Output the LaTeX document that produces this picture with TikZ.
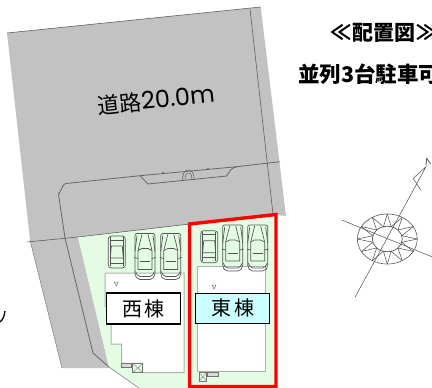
\documentclass[tikz,border=0pt]{standalone}
\usepackage{fontspec}
\newfontfamily\cjk{Noto Sans CJK JP}
\newfontfamily\lat{Poppins}
\definecolor{roadgray}{HTML}{C2C2C2}
\definecolor{lotgreen}{HTML}{E4FCE4}
\definecolor{labelcyan}{HTML}{CCFFFF}
\definecolor{carline}{HTML}{555555}
\definecolor{houseline}{HTML}{A8B4A8}
\tikzset{
  boundary/.style={draw=black!65,line width=0.55pt},
  curb/.style={draw=black!60,line width=0.8pt,line join=round},
  carstroke/.style={draw=carline,line width=0.7pt,line join=round},
  house/.style={draw=houseline,fill=white,line width=1pt},
  tag/.style={draw=black,line width=1.1pt,inner sep=0pt,font=\cjk\fontsize{20}{20}\selectfont,anchor=center},
  compass/.style={draw=black!65,line width=0.55pt},
  smallicon/.style={draw=black!55,line width=0.5pt,fill=black!15},
  bigcar/.pic={
    \draw[carstroke] (2,0) -- (18,0) to[out=0,in=90] (20,7) -- (20,40) to[out=-90,in=0] (15,46) -- (5,46) to[out=180,in=-90] (0,40) -- (0,7) to[out=90,in=180] (2,0) -- cycle;
    \draw[carstroke] (0.5,38) to[out=-60,in=180] (5,43) -- (15,43) to[out=0,in=-120] (19.5,38);
    \draw[carstroke] (7,1) -- (3,17) -- (3,36) -- (17,36) -- (17,17) -- (13,1);
    \draw[carstroke] (3,17) -- (7,15) -- (13,15) -- (17,17);
    \draw[carstroke] (2,2) -- (0,18); \draw[carstroke] (18,2) -- (20,18);
    \draw[carstroke] (5,28) -- (15,28);
    \draw[carstroke] (-1,24) -- (3,25); \draw[carstroke] (21,24) -- (17,25);
  },
  smallcar/.pic={
    \draw[carstroke] (3,0) -- (14,0) to[out=0,in=90] (17,3) -- (17,29) to[out=-90,in=0] (14,32) -- (3,32) to[out=180,in=-90] (0,29) -- (0,3) to[out=90,in=180] (3,0) -- cycle;
    \draw[carstroke] (1.5,4) -- (15.5,4);
    \draw[carstroke] (3,10) -- (14,10) -- (15,22) -- (2,22) -- cycle;
    \draw[carstroke] (2,1) -- (2,30); \draw[carstroke] (15,1) -- (15,30);
    \draw[carstroke] (2,27) -- (15,27);
  }
}
\begin{document}
\begin{tikzpicture}[x=1pt,y=-1pt]
\useasboundingbox (0,0) rectangle (432,388);
\clip (0,0) rectangle (432,388);
% road surface
\fill[roadgray] (7,33) -- (260.7,7) -- (286,216) -- (276,215) -- (78,237) -- (109,367) -- (108,368) -- (62,368) -- (30,240) -- cycle;
% lot
\fill[lotgreen] (78,237) -- (276,214) -- (276,388) -- (139,388) -- (109,367) -- cycle;
% boundary lines
\draw[boundary] (7,33) -- (260.7,7);
\draw[boundary] (250,9) -- (273,214);
\draw[boundary] (27,242) -- (78,237) -- (190,224);
\draw[boundary,draw=black!50] (30,240) -- (62,368);
\draw[boundary,draw=black!50] (109,367) -- (139,388);
\draw[curb] (280,161.7) -- (237,166.7) to[out=188,in=60] (226.7,176) -- (148,184) -- (140,175.7) -- (66,183.5) to[out=188,in=-80] (58.3,193) -- (65,238) -- (93,353) -- (109,367);
\draw[curb] (140,175.7) -- (237,166.7);
\draw[curb,line width=0.6pt] (182.7,180) to[out=95,in=180] (188.3,170) to[out=0,in=85] (194,179.3);
\draw[curb,line width=0.5pt] (185,180) to[out=95,in=180] (188.5,173) to[out=0,in=85] (192,179.5);
\fill[black!65] (163,172.7) circle (0.8) (208,168.3) circle (0.8);
% houses
\draw[house] (105,273) -- (184,273) -- (184,372.7) -- (142.7,372.7) -- (142.7,363.3) -- (121.5,363.3) -- (121.5,344) -- (111,344) -- (111,310) -- (105,306) -- cycle;
\draw[house] (197.7,266.7) rectangle (265,371.7);
% small equipment
\draw[smallicon] (121.7,363.3) rectangle (131,367.7);
\draw[smallicon,fill=lotgreen] (132.7,363.3) rectangle (142.7,372.7);
\draw[black!50,line width=0.4pt] (132.7,363.3) -- (142.7,372.7) (142.7,363.3) -- (132.7,372.7);
\draw[smallicon,fill=lotgreen] (199,372.7) rectangle (206.7,381);
\draw[black!50,line width=0.4pt] (199,372.7) -- (206.7,381) (206.7,372.7) -- (199,381);
\draw[smallicon] (207.7,372.7) rectangle (218,376.7);
\draw[black!55,line width=0.5pt] (114.3,282) -- (118.3,282) -- (116.3,286) -- cycle;
\draw[black!55,line width=0.5pt] (212,285) -- (216,285) -- (214,289) -- cycle;
% cars
\pic at (108.3,236) {smallcar};
\pic at (135,233.5) {bigcar};
\pic at (160.8,233.5) {bigcar};
\pic at (200.7,230.7) {smallcar};
\pic at (222.7,225) {bigcar};
\pic at (247.7,225) {bigcar};
% tags
\node[tag,fill=white,minimum width=74pt,minimum height=31pt] (west) at (143.7,308.5) {西\hspace{2pt}棟};
\node[tag,fill=labelcyan,minimum width=74pt,minimum height=30.3pt] (east) at (232.7,308.2) {東\hspace{3pt}棟};
% red frame
\draw[red,line width=3.4pt,line join=miter] (189.5,388) -- (189.5,224) -- (276,214.5) -- (276,386.5) -- (189.5,386.5);
% texts
\node[rotate=6,inner sep=0pt] (roadtxt) at (156,100) {\cjk\fontsize{22}{22}\selectfont 道路\lat\fontsize{24}{24}\selectfont 20.0m};
\node[anchor=west,inner sep=0pt] (title) at (330,33) {\cjk\bfseries\fontsize{21}{21}\selectfont ≪\hspace{1pt}配置図\hspace{1pt}≫};
\node[anchor=west,inner sep=0pt] (sub) at (298,74) {\cjk\bfseries\fontsize{21.5}{21.5}\selectfont 並列3台駐車可};
% stray mark
\draw[black,line width=1.3pt] (5,311) to[out=-100,in=40] (0,322);
% compass
\draw[compass] (355,297.3) -- (426,166.7) -- (413.3,178.3) -- (420.7,190);
\draw[compass] (341.7,220) -- (431.7,256.7);
\draw[compass,line width=0.8pt] (426,165) -- (426.7,158.3) -- (430.7,164);
\draw[compass,dash pattern=on 1pt off 0.4pt,line width=0.7pt] (387.3,239) ellipse (30 and 25);
\draw[compass,line width=0.7pt] (387.3,239) ellipse (15 and 12.7);
\foreach \a in {0,30,...,330}{
  \draw[compass] ({387.3+30*cos(\a)},{239+25*sin(\a)}) -- ({387.3+15*cos(\a+15)},{239+12.7*sin(\a+15)}) -- ({387.3+30*cos(\a+30)},{239+25*sin(\a+30)});
}
\end{tikzpicture}
\end{document}
